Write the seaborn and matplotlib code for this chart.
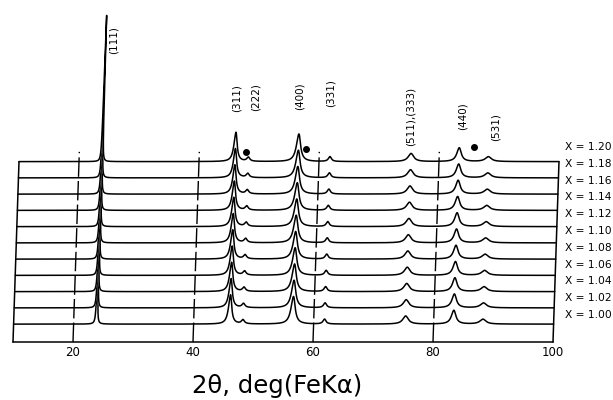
import numpy as np
import pandas as pd
import seaborn as sns
import matplotlib
matplotlib.use("Agg")
import matplotlib.pyplot as plt

# compositions, bottom (1.00) to top (1.20)
compositions = [1.00, 1.02, 1.04, 1.06, 1.08, 1.10, 1.12, 1.14, 1.16, 1.18, 1.20]

# reflections (2theta, deg)
hkl_labels = ["(111)", "(311)", "(222)", "(400)", "(331)", "(511),(333)", "(440)", "(531)"]
peak_pos = [23.8, 46.0, 48.2, 56.5, 61.8, 75.3, 83.3, 88.2]
peak_height = [9.0, 1.8, 0.25, 1.7, 0.3, 0.5, 0.85, 0.3]   # in units of trace spacing
peak_hwhm = [0.06, 0.32, 0.3, 0.42, 0.3, 0.55, 0.45, 0.6]

# label anchor points (2theta, height)
label_x = [26.7, 47.2, 50.5, 57.7, 63.0, 76.3, 85.0, 90.5]
label_y = [18.6, 15.0, 15.1, 15.1, 15.3, 13.9, 13.9, 13.2]

# impurity dots
dot_x = [48.8, 58.8, 86.8]
dot_y = [11.7, 11.9, 12.0]

grid_lines = [20, 40, 60, 80]
tick_vals = [20, 40, 60, 80, 100]

skew = 0.09          # oblique shift of each trace (deg per unit height)
base0 = 1.1          # baseline of the X = 1.00 trace
ytop = 20.43

sns.set_theme(style="white")
plt.rcParams["font.family"] = ["DejaVu Sans"]
plt.rcParams["text.color"] = "black"

fig = plt.figure(figsize=(6.13, 4.0), dpi=100)
ax = fig.add_axes([13 / 613, 58 / 400, 540 / 613, 332 / 400])

tt = np.linspace(10, 100, 12000)

def profile(t):
    y = np.zeros_like(t)
    for p, h, g in zip(peak_pos, peak_height, peak_hwhm):
        y += h * g ** 2 / ((t - p) ** 2 + g ** 2)
    return y

for i, xval in enumerate(compositions):
    yb = base0 + i
    yy = yb + profile(tt)
    xx = tt + skew * yy
    df = pd.DataFrame({"x": xx, "y": yy})
    # white backing hides the lower traces above this one
    poly_x = np.concatenate([xx, [xx[-1], xx[0]]])
    poly_y = np.concatenate([yy, [ytop, ytop]])
    ax.fill(poly_x, poly_y, color="white", zorder=2 * i + 1, clip_on=False)
    sns.lineplot(data=df, x="x", y="y", sort=False, estimator=None, color="black",
                 lw=1.1, ax=ax, zorder=2 * i + 2, clip_on=False)

top_base = base0 + len(compositions) - 1
# side edges of the stack
for x0 in [10, 100]:
    ax.plot([x0, x0 + skew * top_base], [0, top_base], color="black", lw=1.1,
            zorder=60, clip_on=False)

# dashed reference lines
for g in grid_lines:
    ax.plot([g, g + skew * 11.7], [0, 11.7], color="black", lw=1.0,
            dashes=(14, 3), zorder=55, clip_on=False)

for lab, lx, ly in zip(hkl_labels, label_x, label_y):
    ax.text(lx, ly, lab, rotation=90, ha="center", va="center", fontsize=7.5,
            zorder=100)

ax.plot(dot_x, dot_y, "o", color="black", ms=4, zorder=100, clip_on=False)

for i, xval in enumerate(compositions):
    ly = (342 - 315 + 16.8 * i) / 16.25
    ax.text(102.0, ly, f"X = {xval:.2f}", ha="left", va="center", fontsize=7.7,
            zorder=100)

ax.set_xlim(10, 100)
ax.set_ylim(0, ytop)
ax.set_xticks(tick_vals)
ax.set_xticklabels([str(v) for v in tick_vals])
ax.set_yticks([])
ax.tick_params(axis="x", length=0, pad=3, labelsize=8.5, colors="black")
for s in ["top", "left", "right"]:
    ax.spines[s].set_visible(False)
ax.spines["bottom"].set_color("black")
ax.spines["bottom"].set_linewidth(1.1)
ax.set_xlabel("")
ax.set_ylabel("")
ax.patch.set_alpha(0)

fig.text(277 / 613, 1 - 386 / 400, "2θ, deg(FeKα)", ha="center", va="center",
         fontsize=17.5, color="black")

fig.savefig("out.png", dpi=100)
